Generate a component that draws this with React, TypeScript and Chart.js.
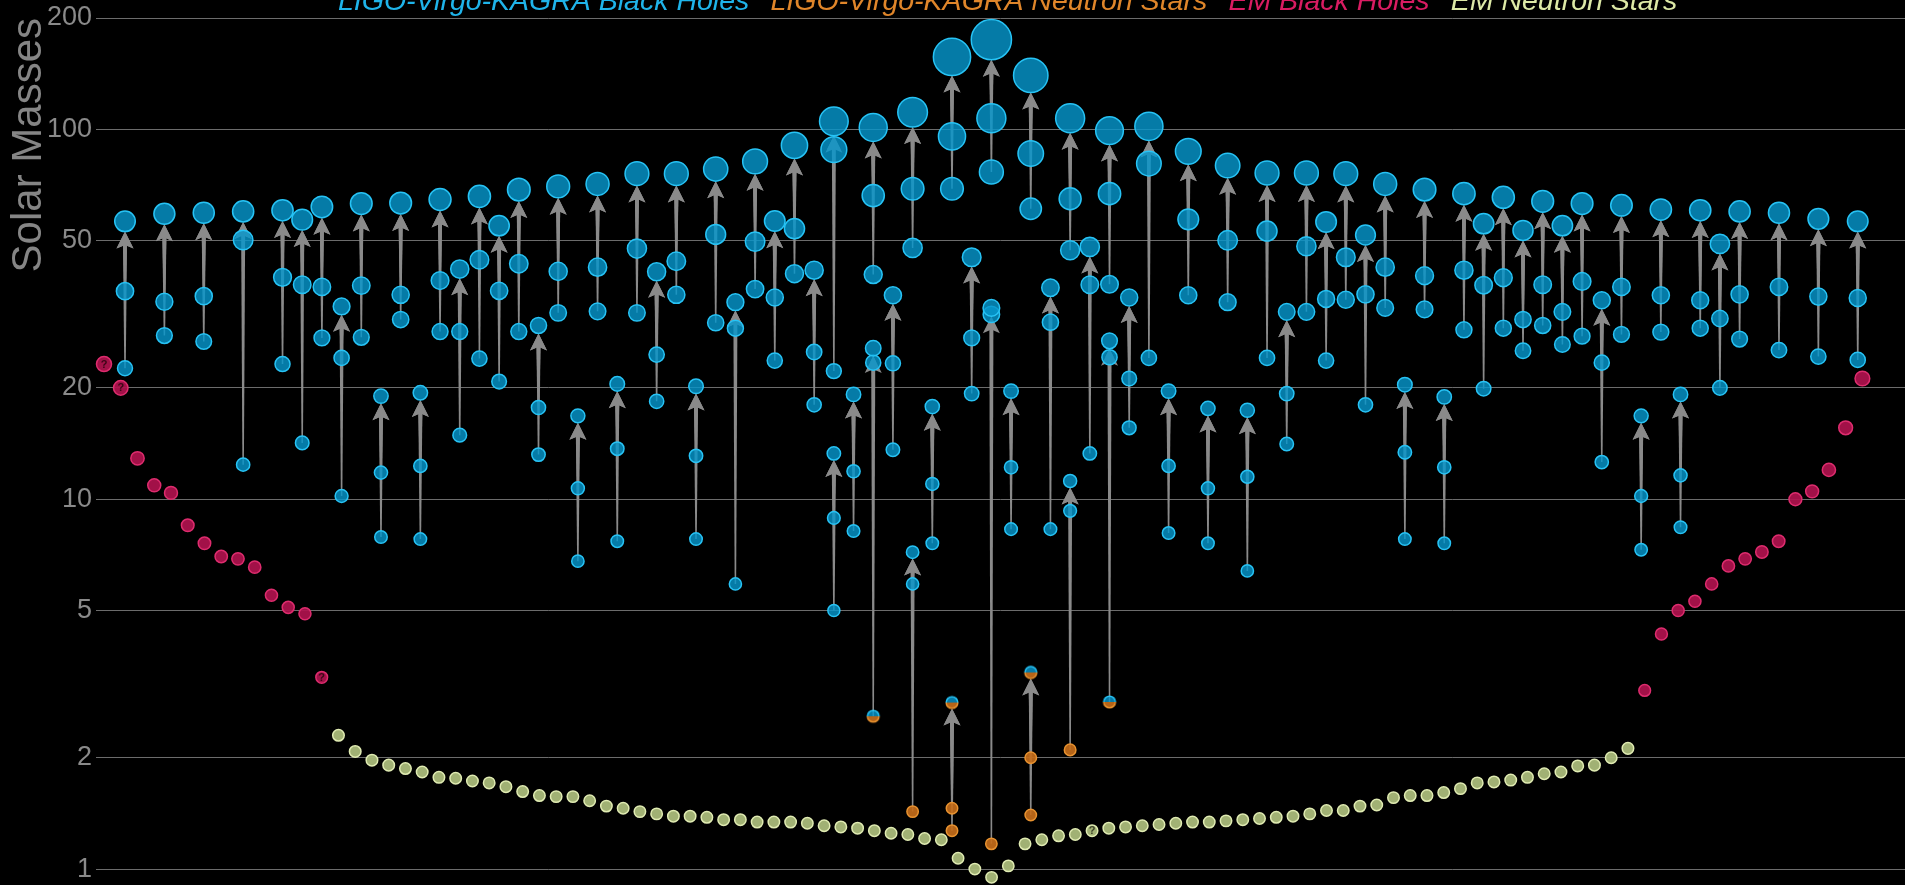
import React, { useEffect, useRef } from 'react';
import { Chart, registerables } from 'chart.js';

Chart.register(...registerables);

// ---------------------------------------------------------------------------
// Gravitational-wave mergers. Each entry sits in a column slot; several slots
// carry two mergers (a heavy one and a light one) stacked vertically.
// Masses are in solar masses: primary, secondary and the merger remnant.
// Component codes (primary, secondary, remnant): B = black hole,
// N = neutron star, U = uncertain (drawn half and half).
// ---------------------------------------------------------------------------
const EVENT_SLOT = [
  0, 2, 4, 6, 8, 9, 10, 11, 12, 13, 14, 15, 16, 17, 18, 19, 20, 21, 22, 23,
  24, 25, 26, 27, 28, 29, 30, 31, 32, 33, 34, 35, 36, 36, 37, 38, 38, 39, 40, 40,
  41, 42, 42, 43, 44, 44, 45, 46, 46, 47, 48, 48, 49, 50, 50, 51, 52, 53, 54, 55,
  56, 57, 58, 59, 60, 61, 62, 63, 64, 65, 66, 67, 68, 69, 70, 71, 72, 73, 74, 75,
  76, 77, 78, 79, 80, 81, 82, 84, 86, 88,
];

const FINAL_MASS = [
  56.4, 59.1, 59.5, 60.0, 60.4, 57.0, 61.7, 33.2, 63.0, 19.0, 63.2, 19.4, 64.6, 41.9, 65.9, 54.9, 68.7, 29.5, 70.1, 16.8,
  71.2, 20.5, 75.9, 41.2, 75.9, 20.2, 78.1, 34.1, 81.9, 56.5, 90.5, 41.6, 105.1, 13.3, 19.2, 101.2, 25.6, 35.6, 111.2, 7.19,
  17.8, 156.9, 2.82, 45.1, 174.8, 32.9, 19.6, 139.9, 3.4, 37.3, 107.1, 11.2, 48.1, 99.2, 26.8, 35.1, 101.9, 19.6, 87.2, 17.6,
  79.8, 17.4, 76.2, 32.1, 76.2, 56.2, 75.9, 51.8, 71.2, 20.4, 68.7, 18.9, 67.0, 55.6, 65.5, 53.3, 63.9, 54.9, 63.0, 34.5,
  62.3, 16.8, 60.7, 19.2, 60.4, 49.0, 60.0, 59.5, 57.3, 56.4,
];

const PRIMARY_MASS = [
  36.5, 34.2, 35.4, 50.2, 39.8, 38.0, 37.5, 24.1, 37.8, 11.8, 35.7, 12.3, 39.0, 28.4, 44.4, 36.6, 43.3, 17.7, 41.3, 10.7,
  42.4, 13.7, 47.6, 24.6, 44.0, 13.1, 52.0, 29.0, 49.7, 35.1, 53.9, 25.0, 88.1, 8.9, 11.9, 66.2, 23.4, 23.3, 69.1, 5.9,
  11.0, 95.7, 1.46, 27.3, 107.1, 31.6, 12.2, 86.0, 2.0, 30.1, 64.9, 9.3, 38.0, 67.0, 24.2, 21.2, 80.8, 12.3, 57.1, 10.7,
  50.1, 11.5, 53.1, 19.3, 48.3, 34.8, 45.1, 35.8, 42.4, 13.4, 40.2, 12.2, 41.6, 37.9, 39.7, 30.6, 38.0, 32.1, 38.8, 23.4,
  37.5, 10.2, 35.6, 11.6, 34.5, 30.8, 35.8, 37.5, 35.3, 35.0,
];

const SECONDARY_MASS = [
  22.6, 27.7, 26.7, 12.4, 23.2, 14.2, 27.3, 10.2, 27.4, 7.9, 30.6, 7.8, 28.4, 14.9, 24.0, 20.8, 28.4, 13.2, 31.9, 6.8,
  32.2, 7.7, 31.9, 18.4, 35.7, 7.8, 30.0, 5.9, 37.0, 23.7, 40.7, 18.0, 22.2, 5.0, 8.2, 40.5, 2.59, 13.6, 47.8, 1.43,
  7.6, 69.1, 1.27, 19.3, 76.7, 1.17, 8.3, 61.0, 1.4, 8.3, 47.1, 2.1, 13.3, 38.1, 2.83, 15.6, 24.1, 8.1, 35.6, 7.6,
  34.1, 6.4, 24.1, 14.1, 32.1, 23.7, 34.6, 18.0, 32.9, 7.8, 32.6, 7.6, 28.7, 19.9, 29.0, 25.2, 29.5, 26.2, 27.6, 12.6,
  27.9, 7.3, 28.3, 8.4, 29.0, 20.0, 27.1, 25.3, 24.3, 23.8,
];

const EVENT_KIND = [
  'BBB', 'BBB', 'BBB', 'BBB', 'BBB', 'BBB', 'BBB', 'BBB', 'BBB', 'BBB',
  'BBB', 'BBB', 'BBB', 'BBB', 'BBB', 'BBB', 'BBB', 'BBB', 'BBB', 'BBB',
  'BBB', 'BBB', 'BBB', 'BBB', 'BBB', 'BBB', 'BBB', 'BBB', 'BBB', 'BBB',
  'BBB', 'BBB', 'BBB', 'BBB', 'BBB', 'BBB', 'BUB', 'BBB', 'BBB', 'BNB',
  'BBB', 'BBB', 'NNU', 'BBB', 'BBB', 'BNB', 'BBB', 'BBB', 'NNU', 'BBB',
  'BBB', 'BNB', 'BBB', 'BBB', 'BUB', 'BBB', 'BBB', 'BBB', 'BBB', 'BBB',
  'BBB', 'BBB', 'BBB', 'BBB', 'BBB', 'BBB', 'BBB', 'BBB', 'BBB', 'BBB',
  'BBB', 'BBB', 'BBB', 'BBB', 'BBB', 'BBB', 'BBB', 'BBB', 'BBB', 'BBB',
  'BBB', 'BBB', 'BBB', 'BBB', 'BBB', 'BBB', 'BBB', 'BBB', 'BBB', 'BBB',
];

// ---------------------------------------------------------------------------
// Electromagnetically observed compact objects, laid out left to right:
// black holes (descending), neutron stars (a valley), black holes (ascending).
// ---------------------------------------------------------------------------
const EM_BH_LEFT = [23.2, 20.0, 12.9, 10.9, 10.4, 8.5, 7.6, 7.0, 6.9, 6.55, 5.5, 5.1, 4.9, 3.3];

const EM_NS = [
  2.30, 2.08, 1.97, 1.91, 1.87, 1.83, 1.77, 1.76, 1.73, 1.71, 1.67, 1.62, 1.58, 1.57, 1.57, 1.53,
  1.48, 1.46, 1.43, 1.41, 1.39, 1.39, 1.38, 1.36, 1.36, 1.34, 1.34, 1.34, 1.33, 1.31, 1.30, 1.29,
  1.27, 1.25, 1.24, 1.21, 1.20, 1.07, 1.00, 0.95, 1.02, 1.17, 1.20, 1.23, 1.24, 1.27, 1.29, 1.30,
  1.31, 1.32, 1.33, 1.34, 1.34, 1.35, 1.36, 1.37, 1.38, 1.39, 1.41, 1.44, 1.44, 1.48, 1.49, 1.56,
  1.58, 1.58, 1.61, 1.65, 1.71, 1.72, 1.74, 1.77, 1.81, 1.83, 1.90, 1.91, 2.00, 2.12,
];

const EM_BH_RIGHT = [3.04, 4.32, 5.0, 5.3, 5.9, 6.6, 6.9, 7.2, 7.7, 10.0, 10.5, 12.0, 15.6, 21.2];

// Objects whose classification is questionable get a "?" badge.
const EM_BH_QUESTIONED = [0, 1, 13];
const EM_NS_QUESTIONED = [45];

const Y_TICKS = [1, 2, 5, 10, 20, 50, 100, 200];

const LEGEND_TEXT = [
  'LIGO-Virgo-KAGRA Black Holes',
  'LIGO-Virgo-KAGRA Neutron Stars',
  'EM Black Holes',
  'EM Neutron Stars',
];
const LEGEND_COLOR = ['#1fb4ea', '#e0862a', '#d91c62', '#dde9a6'];

// ---------------------------------------------------------------------------
// Layout and styling
// ---------------------------------------------------------------------------
const FONT = '"Liberation Sans", Arial, Helvetica, sans-serif';
const X_MIN = -1.473;
const X_MAX = 90.4;
const EM_X0 = -1.0665;
const EM_DX = 0.8505;

const BH_FILL = 'rgba(6, 150, 204, 0.82)';
const BH_EDGE = '#27c3f5';
const NS_FILL = 'rgba(196, 108, 26, 0.92)';
const NS_EDGE = '#e8922f';
const EMBH_FILL = 'rgba(176, 18, 78, 0.92)';
const EMBH_EDGE = '#de2c6e';
const EMNS_FILL = 'rgba(170, 186, 122, 0.95)';
const EMNS_EDGE = '#e0ebb2';
const ARROW_COLOR = 'rgb(138, 138, 138)';

const radiusFor = (m: number) => 5.6 + 0.083 * m;

const halfDotCache: Record<string, HTMLCanvasElement> = {};
function halfDot(r: number): HTMLCanvasElement {
  const key = r.toFixed(2);
  if (halfDotCache[key]) return halfDotCache[key];
  const size = Math.ceil(r * 2 + 4);
  const c = document.createElement('canvas');
  c.width = size;
  c.height = size;
  const g = c.getContext('2d')!;
  const cx = size / 2;
  const cy = size / 2;
  g.beginPath();
  g.arc(cx, cy, r, 0, Math.PI);
  g.closePath();
  g.fillStyle = NS_FILL;
  g.fill();
  g.beginPath();
  g.arc(cx, cy, r, Math.PI, Math.PI * 2);
  g.closePath();
  g.fillStyle = BH_FILL;
  g.fill();
  g.lineWidth = 1.5;
  g.beginPath();
  g.arc(cx, cy, r, 0, Math.PI);
  g.strokeStyle = NS_EDGE;
  g.stroke();
  g.beginPath();
  g.arc(cx, cy, r, Math.PI, Math.PI * 2);
  g.strokeStyle = BH_EDGE;
  g.stroke();
  halfDotCache[key] = c;
  return c;
}

type Pt = { x: number; y: number };

function buildPoints() {
  const bh: Pt[] = [];
  const ns: Pt[] = [];
  const unsure: Pt[] = [];
  const bucket = (code: string) => (code === 'B' ? bh : code === 'N' ? ns : unsure);
  EVENT_SLOT.forEach((slot, i) => {
    const kind = EVENT_KIND[i];
    bucket(kind[1]).push({ x: slot, y: SECONDARY_MASS[i] });
    bucket(kind[0]).push({ x: slot, y: PRIMARY_MASS[i] });
    bucket(kind[2]).push({ x: slot, y: FINAL_MASS[i] });
  });
  const emBh: Pt[] = [];
  const emNs: Pt[] = [];
  let j = 0;
  EM_BH_LEFT.forEach((m) => emBh.push({ x: EM_X0 + EM_DX * j++, y: m }));
  EM_NS.forEach((m) => emNs.push({ x: EM_X0 + EM_DX * j++, y: m }));
  EM_BH_RIGHT.forEach((m) => emBh.push({ x: EM_X0 + EM_DX * j++, y: m }));
  return { bh, ns, unsure, emBh, emNs };
}

// Tapered shaft plus a notched head, pointing up to the remnant.
function drawArrow(ctx: CanvasRenderingContext2D, x: number, yTail: number, yTip: number) {
  const len = yTail - yTip;
  if (len < 6) return;
  const headLen = Math.min(17, len);
  const headHalf = 8.5 * (headLen / 17);
  const neck = yTip + headLen * 0.78;
  if (yTail > neck) {
    const wTail = 0.75;
    const wNeck = 2.0;
    ctx.beginPath();
    ctx.moveTo(x - wTail, yTail);
    ctx.lineTo(x - wNeck, neck - 1);
    ctx.lineTo(x + wNeck, neck - 1);
    ctx.lineTo(x + wTail, yTail);
    ctx.closePath();
    ctx.fill();
  }
  ctx.beginPath();
  ctx.moveTo(x, yTip);
  ctx.lineTo(x + headHalf, yTip + headLen);
  ctx.lineTo(x, neck);
  ctx.lineTo(x - headHalf, yTip + headLen);
  ctx.closePath();
  ctx.fill();
}

const arrowPlugin = {
  id: 'mergerArrows',
  beforeDatasetsDraw(chart: any) {
    const { ctx } = chart;
    const xs = chart.scales.x;
    const ys = chart.scales.y;
    ctx.save();
    ctx.fillStyle = ARROW_COLOR;
    EVENT_SLOT.forEach((slot, i) => {
      const x = xs.getPixelForValue(slot);
      const tip = ys.getPixelForValue(FINAL_MASS[i]) + radiusFor(FINAL_MASS[i]);
      [SECONDARY_MASS[i], PRIMARY_MASS[i]].forEach((m) => {
        drawArrow(ctx, x, ys.getPixelForValue(m), tip);
      });
    });
    ctx.restore();
  },
};

const questionPlugin = {
  id: 'questionMarks',
  afterDatasetsDraw(chart: any) {
    const { ctx } = chart;
    ctx.save();
    ctx.font = `bold 11px ${FONT}`;
    ctx.textAlign = 'center';
    ctx.textBaseline = 'middle';
    const mark = (dsIndex: number, idx: number[], color: string) => {
      const meta = chart.getDatasetMeta(dsIndex);
      idx.forEach((i) => {
        const el = meta.data[i];
        if (!el) return;
        ctx.fillStyle = color;
        ctx.fillText('?', el.x, el.y + 0.5);
      });
    };
    mark(3, EM_BH_QUESTIONED, '#3a0616');
    mark(4, EM_NS_QUESTIONED, '#3d4228');
    ctx.restore();
  },
};

export default function App() {
  const canvasRef = useRef<HTMLCanvasElement>(null);

  useEffect(() => {
    document.body.style.margin = '0';
    document.body.style.background = '#000';
    const canvas = canvasRef.current;
    if (!canvas) return;
    const pts = buildPoints();
    const radius = (c: any) => radiusFor(c.raw ? c.raw.y : 1.4);

    const chart = new Chart(canvas, {
      type: 'scatter',
      data: {
        datasets: [
          {
            label: LEGEND_TEXT[0],
            data: pts.bh,
            backgroundColor: BH_FILL,
            borderColor: BH_EDGE,
            borderWidth: 1.5,
            pointRadius: radius,
            clip: false,
          },
          {
            label: LEGEND_TEXT[1],
            data: pts.ns,
            backgroundColor: NS_FILL,
            borderColor: NS_EDGE,
            borderWidth: 1.5,
            pointRadius: radius,
            clip: false,
          },
          {
            label: 'uncertain',
            data: pts.unsure,
            pointStyle: (c: any) => halfDot(radiusFor(c.raw ? c.raw.y : 2.6)),
            pointRadius: radius,
            clip: false,
          },
          {
            label: LEGEND_TEXT[2],
            data: pts.emBh,
            backgroundColor: EMBH_FILL,
            borderColor: EMBH_EDGE,
            borderWidth: 1.5,
            pointRadius: radius,
            clip: false,
          },
          {
            label: LEGEND_TEXT[3],
            data: pts.emNs,
            backgroundColor: EMNS_FILL,
            borderColor: EMNS_EDGE,
            borderWidth: 1.5,
            pointRadius: radius,
            clip: false,
          },
        ],
      } as any,
      options: {
        responsive: false,
        animation: false,
        events: [],
        layout: { padding: 0, autoPadding: false },
        scales: {
          x: {
            type: 'linear',
            display: false,
            min: X_MIN,
            max: X_MAX,
          },
          y: {
            type: 'logarithmic',
            min: 0.9,
            max: 200,
            afterBuildTicks: (axis: any) => {
              axis.ticks = Y_TICKS.map((v) => ({ value: v }));
            },
            afterFit: (axis: any) => {
              axis.width = 96;
              axis.paddingTop = 0;
              axis.paddingBottom = 0;
            },
            border: { display: false },
            grid: { color: '#6c6c6c', lineWidth: 1, drawTicks: false },
            ticks: {
              color: '#8a8a8a',
              padding: 4,
              autoSkip: false,
              font: { family: FONT, size: 27 },
              callback: (v: any) => String(v),
            },
            title: {
              display: true,
              text: 'Solar Masses',
              align: 'end',
              color: '#858585',
              font: { family: FONT, size: 42, lineHeight: 1.2 },
              padding: { top: 4, bottom: 0 },
            },
          },
        } as any,
        plugins: {
          tooltip: { enabled: false },
          legend: {
            display: true,
            position: 'top',
            align: 'center',
            fullSize: false,
            maxHeight: 37,
            labels: {
              boxWidth: 0,
              padding: 7,
              font: { family: FONT, size: 28.5, style: 'italic' },
              generateLabels: () =>
                LEGEND_TEXT.map((text, i) => ({
                  text,
                  fontColor: LEGEND_COLOR[i],
                  fillStyle: 'rgba(0,0,0,0)',
                  strokeStyle: 'rgba(0,0,0,0)',
                  lineWidth: 0,
                  hidden: false,
                  datasetIndex: i,
                })),
            },
          },
        } as any,
      },
      plugins: [arrowPlugin, questionPlugin],
    } as any);

    return () => chart.destroy();
  }, []);

  return (
    <div
      style={{
        position: 'fixed',
        left: 0,
        top: -19,
        width: 1905,
        height: 905,
        background: '#000',
        overflow: 'hidden',
      }}
    >
      <canvas ref={canvasRef} width={1905} height={905} style={{ display: 'block', width: 1905, height: 905 }} />
    </div>
  );
}
